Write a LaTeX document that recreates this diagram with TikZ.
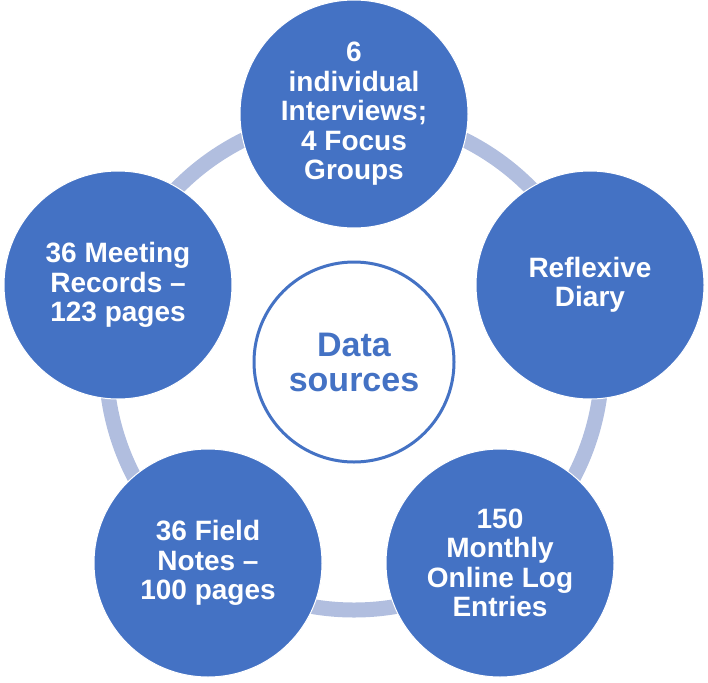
\documentclass[tikz,border=0pt]{standalone}
\usepackage{fontspec}
\setmainfont{Liberation Sans}
\usepackage{xcolor}
\usepackage{tikz}
\usetikzlibrary{positioning}
\definecolor{srcblue}{HTML}{4472C4}
\definecolor{ringgrey}{HTML}{B1BEDF}

\begin{document}
\begin{tikzpicture}[
  x=1pt, y=-1pt,
  src/.style={circle, fill=srcblue, draw=white, line width=1pt, minimum size=228pt, inner sep=0pt, align=center, text=white, font=\fontsize{28}{29.5}\selectfont\bfseries},
  hub/.style={circle, fill=white, draw=srcblue, line width=3pt, minimum size=200pt, inner sep=0pt, align=center, text=srcblue, font=\fontsize{34}{35}\selectfont\bfseries},
  ringline/.style={draw=ringgrey, line width=15pt}
]
  \useasboundingbox (0,0) rectangle (708,682);
  \node[hub] (hub) at (354,362) {Data\\sources};
  \draw[ringline] (hub.center) circle[radius=248];
  \node[src] (iv) at (354,114) {6\\individual\\Interviews;\\4 Focus\\Groups};
  \node[src] (rd) at (590,285) {Reflexive\\Diary};
  \node[src] (ol) at (500,563) {150\\Monthly\\Online Log\\Entries};
  \node[src] (fn) at (208,563) {36 Field\\Notes –\\100 pages};
  \node[src] (mr) at (118,285) {36 Meeting\\Records –\\123 pages};
\end{tikzpicture}
\end{document}
